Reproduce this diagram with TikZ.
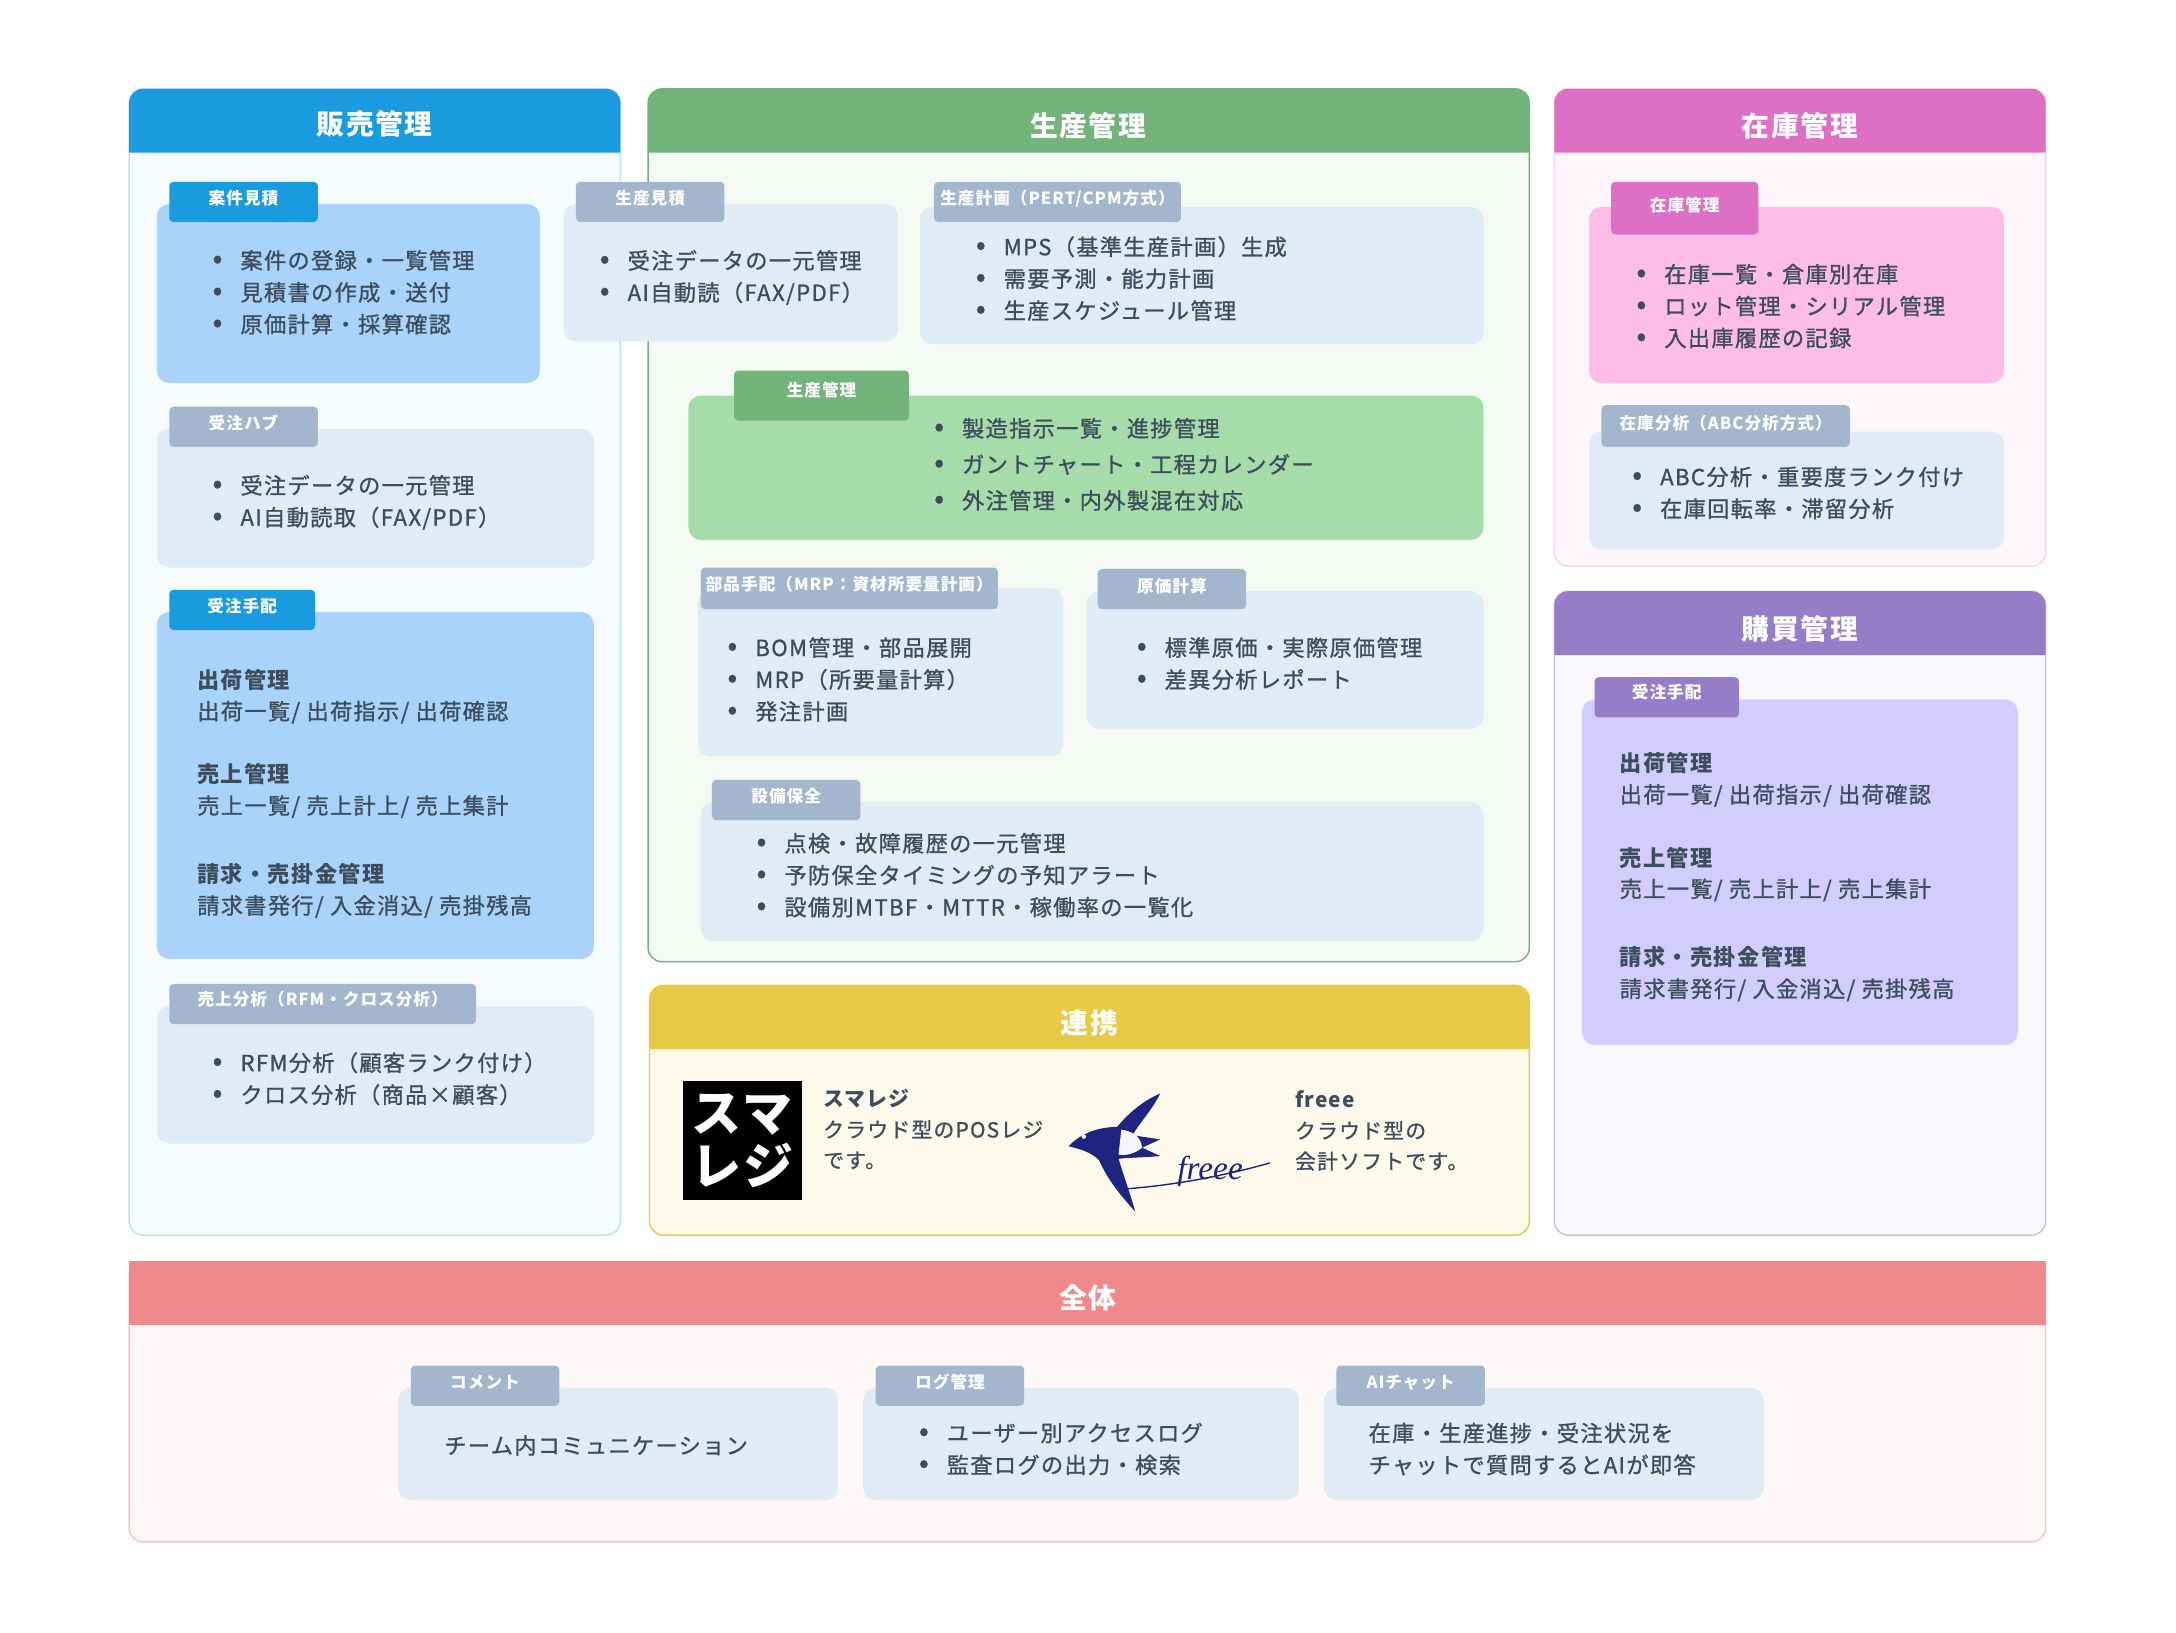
\documentclass[tikz,border=0pt]{standalone}
\usepackage{fontspec}
\setmainfont{Noto Sans CJK JP}[LetterSpace=6, FakeBold=1, BoldFeatures={FakeBold=0}]
\usetikzlibrary{positioning}
\definecolor{txt}{HTML}{3D4D5C}
\definecolor{cardgray}{HTML}{E1EBF5}
\definecolor{tabgray}{HTML}{A3B6CE}
\definecolor{hblue}{HTML}{1A9BE0}
\definecolor{lblue}{HTML}{A9D3FB}
\definecolor{hgreen}{HTML}{72B47A}
\definecolor{lgreen}{HTML}{A5DCA9}
\definecolor{hpink}{HTML}{DD6FC4}
\definecolor{lpink}{HTML}{FDBDE8}
\definecolor{hpurple}{HTML}{957DC8}
\definecolor{lpurple}{HTML}{D2CDFC}
\definecolor{hyellow}{HTML}{E8C946}
\definecolor{hred}{HTML}{F08A8A}
\definecolor{navy}{HTML}{1E2480}
\newcommand\bl[1]{\raisebox{0.5pt}{\scalebox{1.3}{•}}\hspace{13pt}#1}
\tikzset{
  panel/.style={rounded corners=10pt, line width=1pt},
  card/.style={rounded corners=9pt, fill=cardgray},
  tab/.style={rounded corners=3pt, fill=tabgray},
  tabtext/.style={text=white, font=\fontsize{12}{14}\selectfont\bfseries, inner sep=0},
  head/.style={text=white, font=\fontsize{20}{24}\selectfont\bfseries, inner sep=0},
  body/.style={anchor=north west, align=left, text=txt, inner sep=0,
    font=\fontsize{16}{23}\selectfont},
}
\begin{document}
\begin{tikzpicture}[x=1pt,y=-1pt]
\useasboundingbox (0,0) rectangle (1568,1176);

% ------------------------------------------------------------
% Panels
% ------------------------------------------------------------
\draw[panel, draw=hblue!30, fill=hblue!4] (93,64) rectangle (447,890);
\fill[hblue] (93,110) [rounded corners=10pt] -- (93,64) -- (447,64) [sharp corners] -- (447,110) -- cycle;
\node[head] (hanbai) at (270,89) {販売管理};

\draw[panel, draw=hgreen, fill=hgreen!8] (467,64) rectangle (1102,693);
\fill[hgreen] (467,110) [rounded corners=10pt] -- (467,64) -- (1102,64) [sharp corners] -- (1102,110) -- cycle;
\node[head] (seisan) at (784,91) {生産管理};

\draw[panel, draw=hpink!30, fill=hpink!6] (1120,64) rectangle (1474,408);
\fill[hpink] (1120,110) [rounded corners=10pt] -- (1120,64) -- (1474,64) [sharp corners] -- (1474,110) -- cycle;
\node[head] (zaiko) at (1297,91) {在庫管理};

\draw[panel, draw=hpurple!50, fill=hpurple!6] (1120,426) rectangle (1474,890);
\fill[hpurple] (1120,472) [rounded corners=10pt] -- (1120,426) -- (1474,426) [sharp corners] -- (1474,472) -- cycle;
\node[head] (kobai) at (1297,453) {購買管理};

\draw[panel, draw=hyellow, fill=hyellow!10] (468,710) rectangle (1102,890);
\fill[hyellow] (468,756) [rounded corners=10pt] -- (468,710) -- (1102,710) [sharp corners] -- (1102,756) -- cycle;
\node[head] (renkei) at (785,737) {連携};

\draw[panel, draw=hred!50, fill=hred!7] (93,909) rectangle (1474,1111);
\fill[hred] (93,909) rectangle (1474,955);
\node[head] (zentai) at (784,935) {全体};

% ------------------------------------------------------------
% 販売管理
% ------------------------------------------------------------
\fill[card, fill=lblue] (113,147) rectangle (389,276);
\fill[tab, fill=hblue] (122,131) rectangle (229,160);
\node[tabtext] (t1) at (175.5,143) {案件見積};
\node[body] (b1) at (153,180) {\bl{案件の登録・一覧管理}\\\bl{見積書の作成・送付}\\\bl{原価計算・採算確認}};

\fill[card] (113,309) rectangle (428,409);
\fill[tab] (122,293) rectangle (229,322);
\node[tabtext] (t2) at (175.5,305) {受注ハブ};
\node[body] (b2) at (153,342) {\bl{受注データの一元管理}\\\bl{AI自動読取（FAX/PDF）}};

\fill[card, fill=lblue] (113,441) rectangle (428,691);
\fill[tab, fill=hblue] (122,425) rectangle (227,454);
\node[tabtext] (t3) at (174.5,437) {受注手配};
\node[body, font=\fontsize{16}{22.5}\selectfont] (b3) at (142,482)
  {\textbf{出荷管理}\\出荷一覧/ 出荷指示/ 出荷確認\\[23pt]
   \textbf{売上管理}\\売上一覧/ 売上計上/ 売上集計\\[27pt]
   \textbf{請求・売掛金管理}\\請求書発行/ 入金消込/ 売掛残高};

\fill[card] (113,725) rectangle (428,824);
\fill[tab] (122,709) rectangle (343,738);
\node[tabtext] (t4) at (232.5,720) {売上分析（RFM・クロス分析）};
\node[body] (b4) at (153,758) {\bl{RFM分析（顧客ランク付け）}\\\bl{クロス分析（商品×顧客）}};

% ------------------------------------------------------------
% 生産管理
% ------------------------------------------------------------
\fill[card] (406,147) rectangle (647,246);
\fill[tab] (415,131) rectangle (522,160);
\node[tabtext] (t5) at (468.5,143) {生産見積};
\node[body] (b5) at (432,180) {\bl{受注データの一元管理}\\\bl{AI自動読（FAX/PDF）}};

\fill[card] (663,149) rectangle (1069,248);
\fill[tab] (673,131) rectangle (851,160);
\node[tabtext] (t6) at (762,143) {生産計画（PERT/CPM方式）};
\node[body] (b6) at (703,170) {\bl{MPS（基準生産計画）生成}\\\bl{需要予測・能力計画}\\\bl{生産スケジュール管理}};

\fill[card, fill=lgreen] (496,285) rectangle (1069,389);
\fill[tab, fill=hgreen] (529,267) rectangle (655,303);
\node[tabtext] (t7) at (592,281) {生産管理};
\node[body, font=\fontsize{16}{26}\selectfont] (b7) at (673,301) {\bl{製造指示一覧・進捗管理}\\\bl{ガントチャート・工程カレンダー}\\\bl{外注管理・内外製混在対応}};

\fill[card] (503,424) rectangle (766,545);
\fill[tab] (505,409) rectangle (719,439);
\node[tabtext] (t8) at (612,421) {部品手配（MRP：資材所要量計画）};
\node[body] (b8) at (524,459) {\bl{BOM管理・部品展開}\\\bl{MRP（所要量計算）}\\\bl{発注計画}};

\fill[card] (783,426) rectangle (1069,525);
\fill[tab] (791,410) rectangle (898,439);
\node[tabtext] (t9) at (844.5,422) {原価計算};
\node[body] (b9) at (819,459) {\bl{標準原価・実際原価管理}\\\bl{差異分析レポート}};

\fill[card] (505,578) rectangle (1069,678);
\fill[tab] (513,562) rectangle (620,591);
\node[tabtext] (t10) at (566.5,574) {設備保全};
\node[body] (b10) at (545,600) {\bl{点検・故障履歴の一元管理}\\\bl{予防保全タイミングの予知アラート}\\\bl{設備別MTBF・MTTR・稼働率の一覧化}};

% ------------------------------------------------------------
% 在庫管理 / 購買管理
% ------------------------------------------------------------
\fill[card, fill=lpink] (1145,149) rectangle (1444,276);
\fill[tab, fill=hpink] (1161,131) rectangle (1267,169);
\node[tabtext] (t11) at (1214,148) {在庫管理};
\node[body] (b11) at (1179,190) {\bl{在庫一覧・倉庫別在庫}\\\bl{ロット管理・シリアル管理}\\\bl{入出庫履歴の記録}};

\fill[card] (1145,311) rectangle (1444,396);
\fill[tab] (1154,292) rectangle (1333,322);
\node[tabtext] (t12) at (1243.5,305) {在庫分析（ABC分析方式）};
\node[body] (b12) at (1176,336) {\bl{ABC分析・重要度ランク付け}\\\bl{在庫回転率・滞留分析}};

\fill[card, fill=lpurple] (1140,504) rectangle (1454,753);
\fill[tab, fill=hpurple] (1149,488) rectangle (1253,517);
\node[tabtext] (t13) at (1201,499) {受注手配};
\node[body, font=\fontsize{16}{22.5}\selectfont] (b13) at (1167,542)
  {\textbf{出荷管理}\\出荷一覧/ 出荷指示/ 出荷確認\\[23pt]
   \textbf{売上管理}\\売上一覧/ 売上計上/ 売上集計\\[27pt]
   \textbf{請求・売掛金管理}\\請求書発行/ 入金消込/ 売掛残高};

% ------------------------------------------------------------
% 連携
% ------------------------------------------------------------
\fill[black] (492,779) rectangle (578,865);
\node[text=white, font=\fontsize{36}{38}\selectfont\bfseries, align=left, inner sep=0] (sumareji) at (535,822) {スマ\\レジ};
\node[body, font=\fontsize{15}{22}\selectfont] (b14) at (593,785) {\textbf{スマレジ}\\クラウド型のPOSレジ\\です。};

\fill[navy] (770,826) .. controls (780,815) and (795,812) .. (805,812)
  .. controls (815,800) and (826,792) .. (836,788)
  .. controls (830,800) and (822,808) .. (816,818)
  -- (836,821) -- (823,827) -- (836,833)
  .. controls (826,834) and (816,834) .. (806,835)
  .. controls (810,848) and (815,862) .. (818,873)
  .. controls (808,862) and (798,850) .. (792,836)
  .. controls (786,830) and (778,828) .. (770,826) -- cycle;
\fill[navy!5] (808,814) .. controls (815,815) and (822,818) .. (823,827) .. controls (818,831) and (812,833) .. (806,832) -- cycle;
\fill[white] (781,819) circle (1.6);
\node[text=navy, font=\fontsize{24}{24}\selectfont\itshape, inner sep=0] (freeelogo) at (872,844) {\fontspec{Liberation Serif}[FakeBold=0]freee};
\draw[navy, line width=1pt] (806,857) .. controls (840,855) and (880,848) .. (915,838);
\node[body, font=\fontsize{15}{22}\selectfont] (b15) at (933,786) {\textbf{freee}\\クラウド型の\\会計ソフトです。};

% ------------------------------------------------------------
% 全体
% ------------------------------------------------------------
\fill[card] (287,1000) rectangle (604,1081);
\fill[tab] (296,984) rectangle (403,1013);
\node[tabtext] (t16) at (349.5,996) {コメント};
\node[body] (b16) at (320,1034) {チーム内コミュニケーション};

\fill[card] (622,1000) rectangle (936,1081);
\fill[tab] (631,984) rectangle (738,1013);
\node[tabtext] (t17) at (684.5,996) {ログ管理};
\node[body] (b17) at (662,1025) {\bl{ユーザー別アクセスログ}\\\bl{監査ログの出力・検索}};

\fill[card] (954,1000) rectangle (1271,1081);
\fill[tab] (963,984) rectangle (1070,1013);
\node[tabtext] (t18) at (1016.5,996) {AIチャット};
\node[body] (b18) at (986,1025) {在庫・生産進捗・受注状況を\\チャットで質問するとAIが即答};
\end{tikzpicture}
\end{document}
